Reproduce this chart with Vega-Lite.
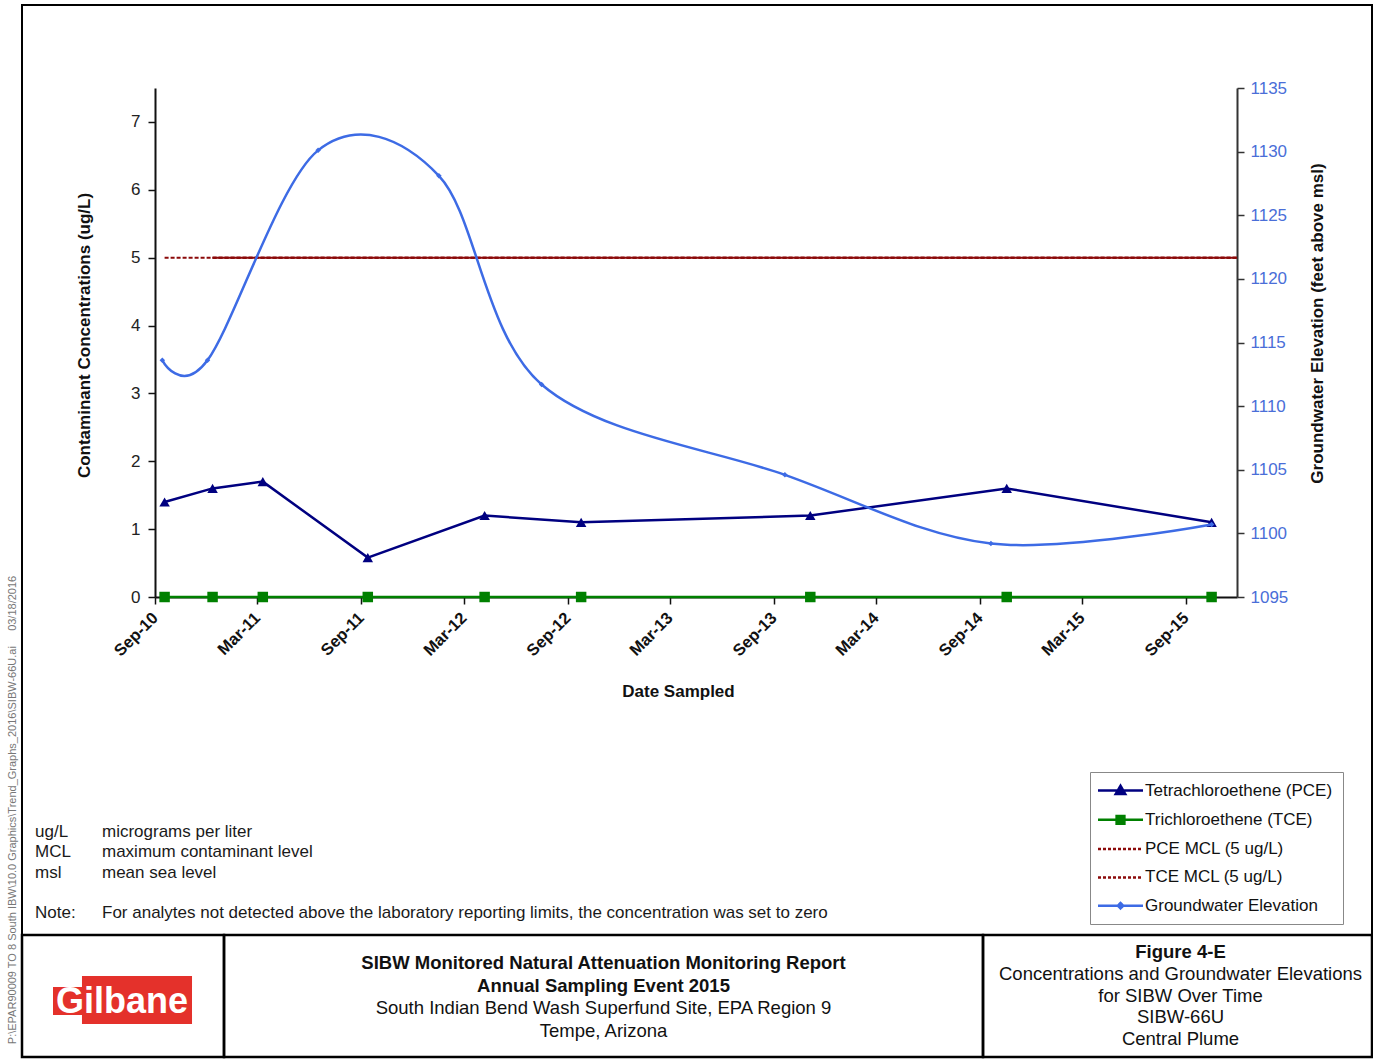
{
  "$schema": "https://vega.github.io/schema/vega-lite/v6.json",
  "padding": {"left": 0, "top": 4, "right": 0, "bottom": 0},
  "background": "white",
  "config": {
    "view": {"stroke": "black", "strokeWidth": 2},
    "font": "Liberation Sans",
    "axis": {"labelFont": "Liberation Sans", "titleFont": "Liberation Sans", "labelFontSize": 17, "titleFontSize": 17, "titleFontWeight": "bold", "labelColor": "#222", "titleColor": "#111", "domainColor": "#111", "tickColor": "#111", "domainWidth": 2, "tickWidth": 1.5, "tickSize": 7, "grid": false},
    "text": {"font": "Liberation Sans"}
  },
  "datasets": {
    "conc": [
      {"series": "Tetrachloroethene (PCE)", "date": "2010-09-18", "value": 1.4},
      {"series": "Tetrachloroethene (PCE)", "date": "2010-12-12", "value": 1.6},
      {"series": "Tetrachloroethene (PCE)", "date": "2011-03-11", "value": 1.7},
      {"series": "Tetrachloroethene (PCE)", "date": "2011-09-13", "value": 0.58},
      {"series": "Tetrachloroethene (PCE)", "date": "2012-04-07", "value": 1.2},
      {"series": "Tetrachloroethene (PCE)", "date": "2012-09-25", "value": 1.1},
      {"series": "Tetrachloroethene (PCE)", "date": "2013-11-05", "value": 1.2},
      {"series": "Tetrachloroethene (PCE)", "date": "2014-10-19", "value": 1.6},
      {"series": "Tetrachloroethene (PCE)", "date": "2015-10-17", "value": 1.1},
      {"series": "Trichloroethene (TCE)", "date": "2010-09-18", "value": 0},
      {"series": "Trichloroethene (TCE)", "date": "2010-12-12", "value": 0},
      {"series": "Trichloroethene (TCE)", "date": "2011-03-11", "value": 0},
      {"series": "Trichloroethene (TCE)", "date": "2011-09-13", "value": 0},
      {"series": "Trichloroethene (TCE)", "date": "2012-04-07", "value": 0},
      {"series": "Trichloroethene (TCE)", "date": "2012-09-25", "value": 0},
      {"series": "Trichloroethene (TCE)", "date": "2013-11-05", "value": 0},
      {"series": "Trichloroethene (TCE)", "date": "2014-10-19", "value": 0},
      {"series": "Trichloroethene (TCE)", "date": "2015-10-17", "value": 0}
    ],
    "mcl": [
      {"series": "PCE MCL (5 ug/L)", "start": "2010-09-18", "end": "2015-12-01", "value": 5},
      {"series": "TCE MCL (5 ug/L)", "start": "2010-12-12", "end": "2015-12-01", "value": 5}
    ],
    "gw": [
      {"series": "Groundwater Elevation", "date": "2010-09-14", "elevation": 1113.6},
      {"series": "Groundwater Elevation", "date": "2010-12-03", "elevation": 1113.6},
      {"series": "Groundwater Elevation", "date": "2011-06-17", "elevation": 1130.1},
      {"series": "Groundwater Elevation", "date": "2012-01-17", "elevation": 1128.1},
      {"series": "Groundwater Elevation", "date": "2012-07-17", "elevation": 1111.7},
      {"series": "Groundwater Elevation", "date": "2013-09-21", "elevation": 1104.6},
      {"series": "Groundwater Elevation", "date": "2014-09-21", "elevation": 1099.2},
      {"series": "Groundwater Elevation", "date": "2015-10-17", "elevation": 1100.7}
    ],
    "notes": [
      {"line": 1, "term": "ug/L", "meaning": "micrograms per liter"},
      {"line": 2, "term": "MCL", "meaning": "maximum contaminant level"},
      {"line": 3, "term": "msl", "meaning": "mean sea level"},
      {"line": 5, "term": "Note:", "meaning": "For analytes not detected above the laboratory reporting limits, the concentration was set to zero"}
    ],
    "block": [
      {"cell": "report", "line": 1, "role": "heading", "text": "SIBW Monitored Natural Attenuation Monitoring Report"},
      {"cell": "report", "line": 2, "role": "heading", "text": "Annual Sampling Event 2015"},
      {"cell": "report", "line": 3, "role": "body", "text": "South Indian Bend Wash Superfund Site, EPA Region 9"},
      {"cell": "report", "line": 4, "role": "body", "text": "Tempe, Arizona"},
      {"cell": "figure", "line": 1, "role": "heading", "text": "Figure 4-E"},
      {"cell": "figure", "line": 2, "role": "body", "text": "Concentrations and Groundwater Elevations"},
      {"cell": "figure", "line": 3, "role": "body", "text": "for SIBW Over Time"},
      {"cell": "figure", "line": 4, "role": "body", "text": "SIBW-66U"},
      {"cell": "figure", "line": 5, "role": "body", "text": "Central Plume"}
    ]
  },
  "spacing": 0,
  "bounds": "flush",
  "hconcat": [
    {
      "width": 22,
      "height": 1052,
      "view": {"stroke": null},
      "data": {"values": [{"path": "P:\\EPAR90009 TO 8 South IBW\\10.0 Graphics\\Trend_Graphs_2016\\SIBW-66U.ai\u00a0\u00a0\u00a0\u00a0\u00a003/18/2016"}]},
      "mark": {"type": "text", "angle": 270, "fontSize": 11, "color": "#777", "align": "center", "baseline": "middle", "dx": -279, "dy": 2},
      "encoding": {"text": {"field": "path"}}
    },
    {
      "spacing": 0,
      "bounds": "flush",
      "vconcat": [
        {
          "width": 1350,
          "height": 930,
          "layer": [
            {
              "layer": [
                {
                  "layer": [
                    {
                      "data": {"name": "mcl"},
                      "mark": {"type": "rule", "strokeDash": [4, 2], "strokeWidth": 2},
                      "encoding": {
                        "x": {"field": "start", "type": "temporal", "title": "Date Sampled",
                          "scale": {"domain": [{"year": 2010, "month": "sep", "date": 1}, {"year": 2015, "month": "dec", "date": 1}], "range": [133, 1215], "nice": false},
                          "axis": {"orient": "bottom", "offset": -338, "format": "%b-%y", "labelAngle": -45, "labelFontWeight": "bold", "labelFontSize": 16.5, "labelColor": "#111", "labelPadding": 11, "labelBaseline": "middle", "labelAlign": "right",
                            "values": [{"year": 2010, "month": "sep", "date": 1}, {"year": 2011, "month": "mar", "date": 1}, {"year": 2011, "month": "sep", "date": 1}, {"year": 2012, "month": "mar", "date": 1}, {"year": 2012, "month": "sep", "date": 1}, {"year": 2013, "month": "mar", "date": 1}, {"year": 2013, "month": "sep", "date": 1}, {"year": 2014, "month": "mar", "date": 1}, {"year": 2014, "month": "sep", "date": 1}, {"year": 2015, "month": "mar", "date": 1}, {"year": 2015, "month": "sep", "date": 1}],
                            "title": "Date Sampled", "titleX": 656, "titleY": 94, "titleBaseline": "middle", "titleAlign": "center"}},
                        "x2": {"field": "end"},
                        "y": {"field": "value", "type": "quantitative", "title": "Contaminant Concentrations (ug/L)",
                          "scale": {"domain": [0, 7.5], "range": [592, 83], "nice": false, "zero": false},
                          "axis": {"orient": "left", "offset": -133, "values": [0, 1, 2, 3, 4, 5, 6, 7], "format": "d", "labelPadding": 8, "title": "Contaminant Concentrations (ug/L)", "titleX": -71, "titleY": 330, "titleBaseline": "middle", "titleAlign": "center", "titleAngle": 270}},
                        "color": {"field": "series", "type": "nominal",
                          "scale": {"domain": ["Tetrachloroethene (PCE)", "Trichloroethene (TCE)", "PCE MCL (5 ug/L)", "TCE MCL (5 ug/L)", "Groundwater Elevation"], "range": ["#000080", "#008000", "#8B0A0A", "#8B0A0A", "#3D6BE5"]},
                          "legend": {"title": null, "orient": "none", "legendX": 1090, "legendY": 767, "strokeColor": "#888", "fillColor": "white", "padding": 10, "labelFontSize": 17, "labelFont": "Liberation Sans", "labelColor": "#111", "symbolSize": 36, "symbolStrokeWidth": 2.5, "symbolOffset": 12, "labelOffset": 16, "rowPadding": 10.3, "labelLimit": 400, "symbolType": "M-7.5,0H7.5",
                            "encode": {"symbols": {"update": {
                              "shape": {"signal": "datum.value == 'Tetrachloroethene (PCE)' ? 'M-7.5,0H7.5M0,-1.6L1.6,1.2L-1.6,1.2Z' : datum.value == 'Trichloroethene (TCE)' ? 'M-7.5,0H7.5M-1.3,-1.3H1.3V1.3H-1.3Z' : datum.value == 'Groundwater Elevation' ? 'M-7.5,0H7.5M0,-0.9L0.9,0L0,0.9L-0.9,0Z' : 'M-7.5,0H7.5'"},
                              "fill": {"scale": "color", "field": "value"},
                              "strokeDash": {"signal": "indexof(datum.value, 'MCL') >= 0 ? [3, 2] : [1, 0]"},
                              "opacity": {"value": 1}
                            }}}}}
                      }
                    },
                    {
                      "data": {"name": "mcl"},
                      "transform": [{"filter": "datum.series == 'TCE MCL (5 ug/L)'"}],
                      "mark": {"type": "rule", "strokeWidth": 2, "color": "#8B0A0A"},
                      "encoding": {
                        "x": {"field": "start", "type": "temporal", "title": "Date Sampled"},
                        "x2": {"field": "end"},
                        "y": {"field": "value", "type": "quantitative", "title": "Contaminant Concentrations (ug/L)"}
                      }
                    },
                    {
                      "data": {"name": "conc"},
                      "transform": [{"filter": "datum.series == 'Tetrachloroethene (PCE)'"}],
                      "mark": {"type": "line", "strokeWidth": 2.5, "point": {"shape": "triangle-up", "size": 110, "filled": true, "opacity": 1}},
                      "encoding": {
                        "x": {"field": "date", "type": "temporal", "title": "Date Sampled"},
                        "y": {"field": "value", "type": "quantitative", "title": "Contaminant Concentrations (ug/L)"},
                        "color": {"field": "series", "type": "nominal"}
                      }
                    },
                    {
                      "data": {"name": "conc"},
                      "transform": [{"filter": "datum.series == 'Trichloroethene (TCE)'"}],
                      "mark": {"type": "line", "strokeWidth": 2.5, "point": {"shape": "square", "size": 110, "filled": true, "opacity": 1}},
                      "encoding": {
                        "x": {"field": "date", "type": "temporal", "title": "Date Sampled"},
                        "y": {"field": "value", "type": "quantitative", "title": "Contaminant Concentrations (ug/L)"},
                        "color": {"field": "series", "type": "nominal"}
                      }
                    }
                  ]
                },
                {
                  "data": {"name": "gw"},
                  "mark": {"type": "line", "interpolate": "cardinal", "strokeWidth": 2.5, "point": {"shape": "diamond", "size": 30, "filled": true, "opacity": 1}},
                  "encoding": {
                    "x": {"field": "date", "type": "temporal", "title": "Date Sampled"},
                    "y": {"field": "elevation", "type": "quantitative", "title": "Groundwater Elevation (feet above msl)",
                      "scale": {"domain": [1095, 1135], "range": [592, 83], "nice": false, "zero": false},
                      "axis": {"orient": "right", "offset": -135, "values": [1095, 1100, 1105, 1110, 1115, 1120, 1125, 1130, 1135], "format": "d", "labelColor": "#4A6ED8", "labelPadding": 6, "domainColor": "#333", "tickColor": "#333", "title": "Groundwater Elevation (feet above msl)", "titleX": 80, "titleY": 318, "titleAngle": 270, "titleBaseline": "middle", "titleAlign": "center"}},
                    "color": {"field": "series", "type": "nominal"}
                  }
                }
              ],
              "resolve": {"scale": {"y": "independent"}}
            },
            {
              "data": {"name": "notes"},
              "transform": [{"fold": ["term", "meaning"], "as": ["column", "note"]}],
              "mark": {"type": "text", "align": "left", "baseline": "middle", "fontSize": 17, "color": "#1a1a1a"},
              "encoding": {
                "x": {"field": "column", "type": "nominal", "scale": {"type": "point", "domain": ["term", "meaning"], "range": [13, 80], "padding": 0}, "axis": null},
                "y": {"field": "line", "type": "ordinal", "scale": {"type": "point", "domain": [1, 2, 3, 4, 5], "range": [827, 908], "padding": 0}, "axis": null},
                "text": {"field": "note"}
              }
            }
          ],
          "resolve": {"scale": {"x": "independent", "y": "independent"}}
        },
        {
          "spacing": 0,
          "bounds": "flush",
          "hconcat": [
            {
              "width": 202,
              "height": 122,
              "view": {"stroke": "black", "strokeWidth": 2.5},
              "data": {"values": [{"name": "Gilbane"}]},
              "layer": [
                {
                  "mark": {"type": "point", "shape": "M-0.586,-0.286H0.986V0.4H-0.586Z M-1,-0.129H-0.586V0.271H-1Z", "size": 19600, "filled": true, "color": "#E4312B", "opacity": 1, "strokeWidth": 0},
                  "encoding": {}
                },
                {
                  "mark": {"type": "text", "font": "Liberation Sans", "fontWeight": "bold", "fontSize": 36, "color": "white", "align": "center", "baseline": "alphabetic", "dy": 17, "dx": -1},
                  "encoding": {"text": {"field": "name"}}
                }
              ]
            },
            {
              "width": 759,
              "height": 122,
              "view": {"stroke": "black", "strokeWidth": 2.5},
              "data": {"name": "block"},
              "transform": [{"filter": "datum.cell == 'report'"}],
              "layer": [
                {
                  "transform": [{"filter": "datum.role == 'heading'"}],
                  "mark": {"type": "text", "fontWeight": "bold", "fontSize": 18.5, "color": "#111", "align": "center", "baseline": "middle"},
                  "encoding": {
                    "y": {"field": "line", "type": "ordinal", "scale": {"type": "point", "domain": [1, 2, 3, 4], "range": [28, 96], "padding": 0}, "axis": null},
                    "text": {"field": "text"}
                  }
                },
                {
                  "transform": [{"filter": "datum.role == 'body'"}],
                  "mark": {"type": "text", "fontSize": 18.5, "color": "#111", "align": "center", "baseline": "middle"},
                  "encoding": {
                    "y": {"field": "line", "type": "ordinal", "scale": {"type": "point", "domain": [1, 2, 3, 4], "range": [28, 96], "padding": 0}, "axis": null},
                    "text": {"field": "text"}
                  }
                }
              ]
            },
            {
              "width": 389,
              "height": 122,
              "view": {"stroke": "black", "strokeWidth": 2.5},
              "data": {"name": "block"},
              "transform": [{"filter": "datum.cell == 'figure'"}],
              "layer": [
                {
                  "transform": [{"filter": "datum.role == 'heading'"}],
                  "mark": {"type": "text", "fontWeight": "bold", "fontSize": 18.5, "color": "#111", "align": "center", "baseline": "middle", "dx": 3},
                  "encoding": {
                    "y": {"field": "line", "type": "ordinal", "scale": {"type": "point", "domain": [1, 2, 3, 4, 5], "range": [17, 104], "padding": 0}, "axis": null},
                    "text": {"field": "text"}
                  }
                },
                {
                  "transform": [{"filter": "datum.role == 'body'"}],
                  "mark": {"type": "text", "fontSize": 18.5, "color": "#111", "align": "center", "baseline": "middle", "dx": 3},
                  "encoding": {
                    "y": {"field": "line", "type": "ordinal", "scale": {"type": "point", "domain": [1, 2, 3, 4, 5], "range": [17, 104], "padding": 0}, "axis": null},
                    "text": {"field": "text"}
                  }
                }
              ]
            }
          ]
        }
      ]
    }
  ]
}
